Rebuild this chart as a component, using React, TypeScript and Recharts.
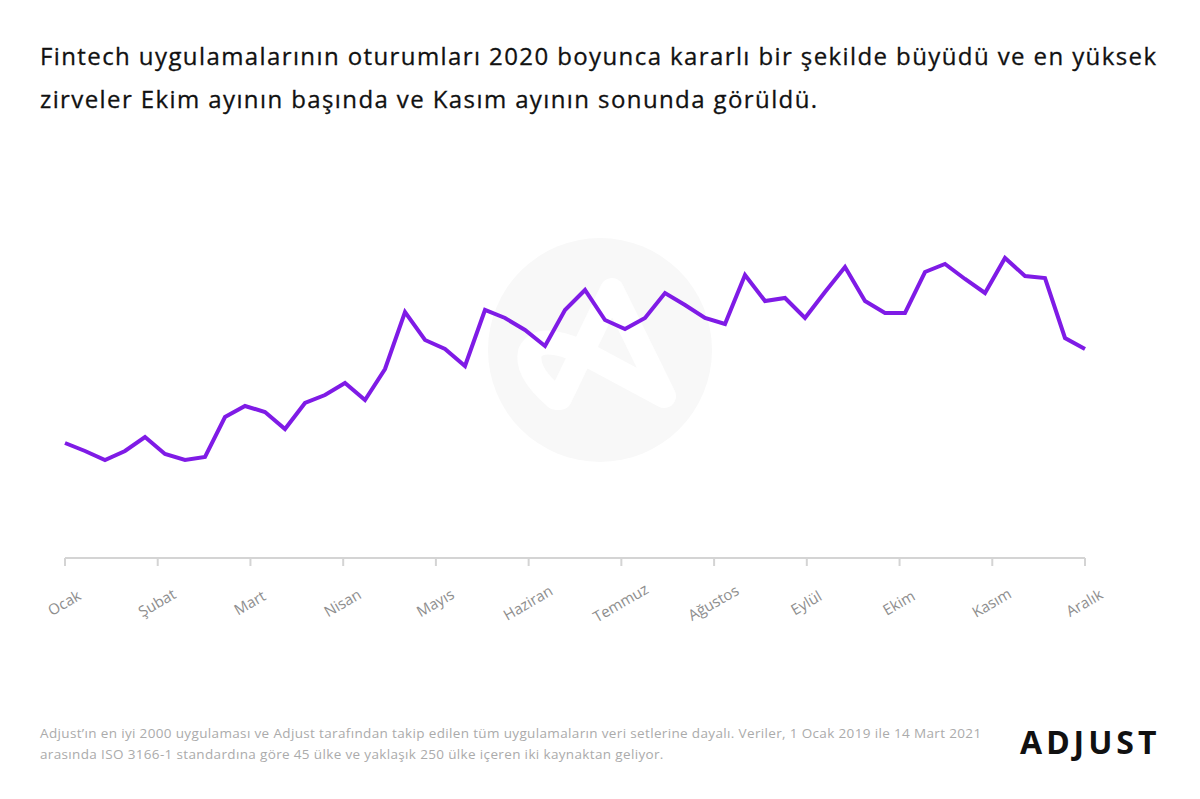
import { LineChart, Line, XAxis, YAxis } from 'recharts';

const months = ['Ocak', 'Şubat', 'Mart', 'Nisan', 'Mayıs', 'Haziran', 'Temmuz', 'Ağustos', 'Eylül', 'Ekim', 'Kasım', 'Aralık'];

// weekly session index (52 weeks)
const sessions = [
  115, 107, 98, 107, 121, 104, 98, 101, 141, 152,
  146, 129, 155, 163, 175, 158, 189, 246, 218, 209,
  192, 248, 240, 228, 212, 248, 268, 238, 229, 240,
  265, 253, 240, 234, 283, 257, 260, 240, 266, 291,
  257, 245, 245, 286, 294, 279, 265, 300, 282, 280,
  220, 209,
];

const lastWeek = sessions.length - 1;
const data = sessions.map((v, i) => ({ week: i, value: v }));
const monthTicks = months.map((_, i) => (i * lastWeek) / (months.length - 1));

const FONT = "'Open Sans', sans-serif";

const MonthTick = (props: any) => {
  const { x, y, index } = props;
  const cy = y + 36;
  return (
    <text
      x={x}
      y={cy}
      textAnchor="middle"
      dominantBaseline="middle"
      fill="#8e8e8e"
      fontSize={15}
      fontFamily={FONT}
      transform={`rotate(-30, ${x}, ${cy})`}
    >
      {months[index]}
    </text>
  );
};

const Watermark = () => (
  <svg width={1200} height={799} style={{ position: 'absolute', left: 0, top: 0 }}>
    <circle cx={600} cy={350} r={112} fill="#f8f8f8" />
    <path
      d="M 560 398 L 612 290 L 664 396 L 582 352 Q 540 333 530 352 Q 525 372 556 398"
      fill="none"
      stroke="#ffffff"
      strokeWidth={24}
      strokeLinejoin="round"
      strokeLinecap="round"
    />
  </svg>
);

export default function App() {
  return (
    <div style={{ position: 'relative', width: 1200, height: 799, background: '#fff', overflow: 'hidden', fontFamily: FONT }}>
      <style>{'body{margin:0}'}</style>
      <Watermark />
      <div style={{ position: 'absolute', left: 40, top: 34, fontSize: 24, fontWeight: 500, color: '#111', lineHeight: '43px', letterSpacing: 1.4, whiteSpace: 'nowrap', WebkitTextStroke: '0.3px #111' }}>
        <div>Fintech uygulamalarının oturumları 2020 boyunca kararlı bir şekilde büyüdü ve en yüksek</div>
        <div>zirveler Ekim ayının başında ve Kasım ayının sonunda görüldü.</div>
      </div>
      <div style={{ position: 'absolute', left: 0, top: 0 }}>
        <LineChart width={1200} height={640} data={data} margin={{ top: 238, right: 115, bottom: 0, left: 65 }}>
          <XAxis
            dataKey="week"
            type="number"
            domain={[0, lastWeek]}
            ticks={monthTicks}
            interval={0}
            height={82}
            stroke="#d4d4d4"
            strokeWidth={2}
            tickSize={8}
            tickLine={{ stroke: '#d4d4d4', strokeWidth: 2 }}
            tick={<MonthTick />}
          />
          <YAxis hide domain={[0, 320]} />
          <Line
            type="linear"
            dataKey="value"
            stroke="#7f1be6"
            strokeWidth={4}
            dot={false}
            activeDot={false}
            isAnimationActive={false}
          />
        </LineChart>
      </div>
      <div style={{ position: 'absolute', left: 40, top: 723, fontSize: 13.5, color: '#ababab', lineHeight: '21px', letterSpacing: 0.35, whiteSpace: 'nowrap' }}>
        <div>Adjust’ın en iyi 2000 uygulaması ve Adjust tarafından takip edilen tüm uygulamaların veri setlerine dayalı. Veriler, 1 Ocak 2019 ile 14 Mart 2021</div>
        <div>arasında ISO 3166-1 standardına göre 45 ülke ve yaklaşık 250 ülke içeren iki kaynaktan geliyor.</div>
      </div>
      <div style={{ position: 'absolute', left: 1020, top: 720, fontSize: 32, fontWeight: 700, color: '#111', letterSpacing: 4, fontFamily: "'Noto Sans', sans-serif" }}>
        ADJUST
      </div>
    </div>
  );
}
